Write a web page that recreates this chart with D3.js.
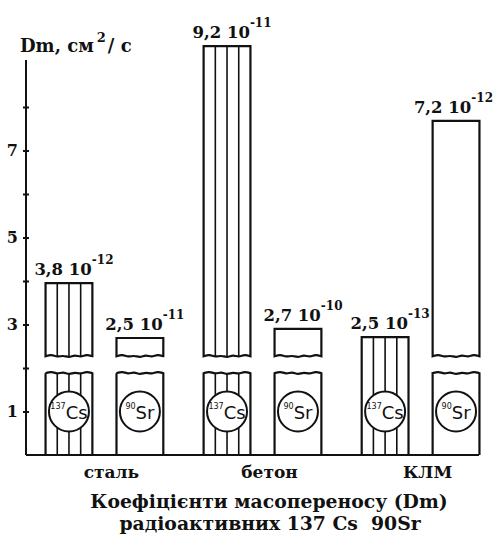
<!DOCTYPE html>
<html>
<head>
<meta charset="utf-8">
<script src="https://cdn.jsdelivr.net/npm/d3@7"></script>
<style>
    body { margin: 0; background: #fff; }
    text { font-family: "DejaVu Serif", serif; font-weight: bold; fill: #111; }
    .iso { font-family: "DejaVu Sans", sans-serif; font-weight: normal; }
</style>
</head>
<body>
<svg id="chart"></svg>
<script>
    // values (bar heights in axis units, labels as printed)
    const categories = ["сталь", "бетон", "КЛМ"];
    const isotopes = ["Cs", "Sr"];
    const isotopeMass = ["137", "90"];
    const csHeights = [3.95, 9.4, 2.71];
    const srHeights = [2.69, 2.9, 7.68];
    const csMantissa = ["3,8", "9,2", "2,5"];
    const csExponent = ["-12", "-11", "-13"];
    const srMantissa = ["2,5", "2,7", "7,2"];
    const srExponent = ["-11", "-10", "-12"];
    const csBroken = [true, true, false];
    const srBroken = [true, true, true];
    const yTicks = [1, 2, 3, 4, 5, 6, 7, 8];
    const yTickLabels = ["1", "", "3", "", "5", "", "7", ""];
    const breakLow = 1.88, breakHigh = 2.27;

    const width = 494, height = 536;
    const svg = d3.select("#chart").attr("width", width).attr("height", height);

    const y = d3.scaleLinear().domain([0, 8]).range([455, 107]);
    const x0 = d3.scaleBand().domain(categories).range([25, 500])
        .paddingInner(0.255).paddingOuter(0.13);
    const x1 = d3.scaleBand().domain(isotopes).range([0, x0.bandwidth()]).paddingInner(0.34);

    const bars = [];
    categories.forEach((c, i) => {
        bars.push({cat: c, iso: "Cs", mass: isotopeMass[0], h: csHeights[i], man: csMantissa[i], exp: csExponent[i], broken: csBroken[i]});
        bars.push({cat: c, iso: "Sr", mass: isotopeMass[1], h: srHeights[i], man: srMantissa[i], exp: srExponent[i], broken: srBroken[i]});
    });
    bars.forEach(b => {
        b.x0 = x0(b.cat) + x1(b.iso);
        b.x1 = b.x0 + x1.bandwidth();
        b.cx = (b.x0 + b.x1) / 2;
    });

    // torn edge of the broken bars
    const wave = [0, -2, 1, -1.5, 1.5, -1, 1, -2, 0];
    const waveLine = d3.line().curve(d3.curveBasis);
    function wavy(xa, xb, yy) {
        return waveLine(wave.map((d, i) => [xa + (xb - xa) * i / (wave.length - 1), yy + d])).replace("M", "L");
    }

    // axis
    const axis = svg.append("g")
        .attr("transform", "translate(26,0)")
        .call(d3.axisLeft(y).tickValues(yTicks).tickSize(3).tickPadding(5)
            .tickFormat((d, i) => yTickLabels[i]));
    axis.select(".domain").remove();
    axis.selectAll(".tick line").attr("x2", -3).attr("x1", 3).attr("stroke", "#111").attr("stroke-width", 2);
    axis.selectAll(".tick text").style("font-size", "16px").attr("fill", "#111");

    svg.append("line")
        .attr("x1", 26).attr("x2", 26)
        .attr("y1", 60).attr("y2", y(0))
        .attr("stroke", "#111").attr("stroke-width", 2);

    const title = svg.append("text").attr("x", 20).attr("y", 52).style("font-size", "18px");
    title.append("tspan").text("Dm, см");
    title.append("tspan").attr("dy", -10).attr("dx", 3).style("font-size", "13px").text("2");
    title.append("tspan").attr("dy", 10).attr("dx", 2).text("/ с");

    // hatching in Cs bars
    const hatch = svg.append("g").attr("stroke", "#111").attr("stroke-width", 1.6);
    bars.filter(b => b.iso === "Cs").forEach(b => {
        [0.25, 0.5, 0.75].forEach(f => {
            const xx = b.x0 + (b.x1 - b.x0) * f;
            if (b.broken) {
                hatch.append("line").attr("x1", xx).attr("x2", xx).attr("y1", y(b.h)).attr("y2", y(breakHigh));
                hatch.append("line").attr("x1", xx).attr("x2", xx).attr("y1", y(breakLow)).attr("y2", y(0));
            } else {
                hatch.append("line").attr("x1", xx).attr("x2", xx).attr("y1", y(b.h)).attr("y2", y(0));
            }
        });
    });

    // bar outlines
    const outline = svg.append("g").attr("fill", "none").attr("stroke", "#111").attr("stroke-width", 2.2);
    bars.forEach(b => {
        if (b.broken) {
            outline.append("path")
                .attr("d", `M${b.x0},${y(b.h)}H${b.x1}V${y(breakHigh)}` + wavy(b.x1, b.x0, y(breakHigh)) + "Z");
            outline.append("path")
                .attr("d", `M${b.x0},${y(0)}V${y(breakLow)}` + wavy(b.x0, b.x1, y(breakLow)) + `V${y(0)}`);
        } else {
            outline.append("path")
                .attr("d", `M${b.x0},${y(0)}V${y(b.h)}H${b.x1}V${y(0)}`);
        }
    });

    svg.append("line")
        .attr("x1", 26).attr("x2", 479)
        .attr("y1", y(0)).attr("y2", y(0))
        .attr("stroke", "#111").attr("stroke-width", 2.2);

    // isotope circles
    const badge = svg.append("g").selectAll("g").data(bars).join("g")
        .attr("transform", b => `translate(${b.cx},${y(1)})`);
    badge.append("circle").attr("r", 20).attr("fill", "#fff").attr("stroke", "#111").attr("stroke-width", 2);
    const iso = badge.append("text").attr("class", "iso").attr("text-anchor", "middle").attr("y", 6);
    iso.append("tspan").attr("dy", -9).style("font-size", "8px").text(b => b.mass);
    iso.append("tspan").attr("dy", 10).style("font-size", "18px").text(b => b.iso);

    // value labels
    const lab = svg.append("g").selectAll("text").data(bars).join("text")
        .attr("y", b => y(b.h) - 8)
        .style("font-size", "16.5px");
    lab.append("tspan").text(b => b.man + " 10");
    lab.append("tspan").attr("dy", -11).style("font-size", "12px").text(b => b.exp);
    lab.attr("x", function (b) {
        const w = this.getComputedTextLength();
        return Math.min(b.cx + 5 - w / 2, width - 1 - w);
    });

    // category labels
    svg.append("g").selectAll("text").data(categories).join("text")
        .attr("text-anchor", "middle")
        .attr("x", c => x0(c) + x0.bandwidth() / 2 + 7)
        .attr("y", 478)
        .style("font-size", "17px")
        .text(c => c);

    svg.append("text").attr("text-anchor", "middle").attr("x", 269).attr("y", 508)
        .style("font-size", "18.8px").text("Коефіцієнти масопереносу (Dm)");
    svg.append("text").attr("text-anchor", "middle").attr("x", 270).attr("y", 530)
        .style("font-size", "18.8px").style("white-space", "pre").text("радіоактивних 137 Cs  90Sr");
</script>
</body>
</html>
